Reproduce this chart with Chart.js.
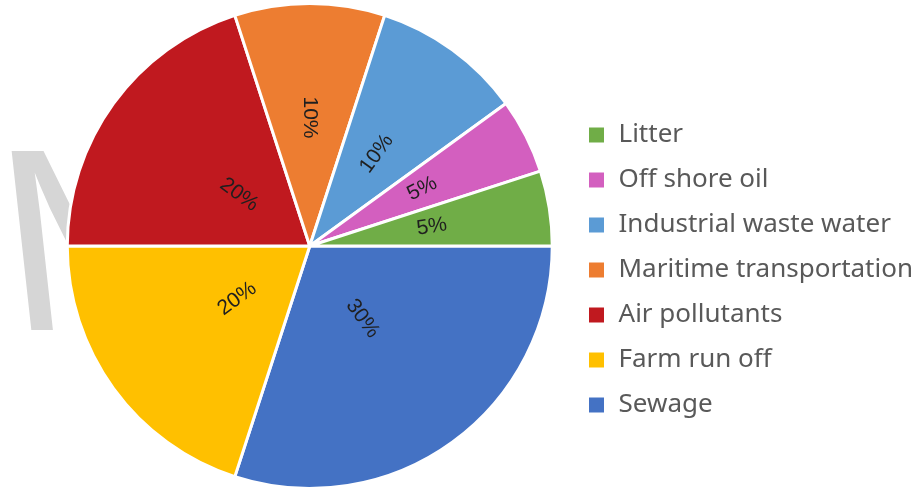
<!DOCTYPE html>
<html lang="en">
<head>
  <meta charset="UTF-8" />
  <title>Sources of marine pollution</title>
  <script src="https://cdn.jsdelivr.net/npm/chart.js"></script>
  <style>
    html, body { margin: 0; padding: 0; background: #fff; }
    #wrap { width: 917px; height: 490px; }
  </style>
</head>
<body>
  <div id="wrap"><canvas id="pie" width="917" height="490"></canvas></div>

  <script>
    // slices in drawing order, clockwise from 3 o'clock
    const categories = ['Sewage', 'Farm run off', 'Air pollutants', 'Maritime transportation',
                        'Industrial waste water', 'Off shore oil', 'Litter'];
    const shares = [30, 20, 20, 10, 10, 5, 5];
    const sliceLabels = ['30%', '20%', '20%', '10%', '10%', '5%', '5%'];

    const colors = ['#4472C4', '#FFC000', '#C0191F', '#ED7D31', '#5B9BD5', '#D35FBF', '#70AD47'];
    // how far out (share of radius) each slice label sits
    const labelDist = [0.37, 0.37, 0.36, 0.53, 0.47, 0.52, 0.51];

    // faint watermark behind the pie
    const watermark = {
      id: 'watermark',
      beforeDraw(chart) {
        const ctx = chart.ctx;
        ctx.save();
        ctx.fillStyle = '#d6d6d6';
        ctx.font = '260px "Liberation Sans"';
        ctx.setTransform(1, 0, 0.11, 1, 10, 330);
        ctx.fillText('M', 0, 0);
        ctx.restore();
      }
    };

    // rotated percent labels inside the slices
    const sliceText = {
      id: 'sliceText',
      afterDatasetsDraw(chart) {
        const ctx = chart.ctx;
        const arcs = chart.getDatasetMeta(0).data;
        ctx.save();
        ctx.font = '21px "Liberation Sans"';
        ctx.fillStyle = '#1f1f1f';
        ctx.textAlign = 'center';
        ctx.textBaseline = 'middle';
        arcs.forEach((arc, i) => {
          const p = arc.getProps(['x', 'y', 'startAngle', 'endAngle', 'outerRadius'], true);
          const mid = (p.startAngle + p.endAngle) / 2;
          const r = p.outerRadius * labelDist[i];
          let a = ((mid % (2 * Math.PI)) + 2 * Math.PI) % (2 * Math.PI);
          if (a > Math.PI / 2 && a <= 3 * Math.PI / 2) a -= Math.PI;
          else if (a > 3 * Math.PI / 2) a -= 2 * Math.PI;
          ctx.save();
          ctx.translate(p.x + Math.cos(mid) * r, p.y + Math.sin(mid) * r);
          ctx.rotate(a);
          ctx.fillText(sliceLabels[i], 0, 0);
          ctx.restore();
        });
        ctx.restore();
      }
    };

    new Chart(document.getElementById('pie'), {
      type: 'pie',
      data: {
        labels: categories,
        datasets: [{
          data: shares,
          backgroundColor: colors,
          borderColor: '#ffffff',
          borderWidth: 3
        }]
      },
      options: {
        responsive: false,
        animation: false,
        rotation: 90,
        layout: { padding: { left: 51, right: -6, top: 2, bottom: 0 } },
        plugins: {
          tooltip: { enabled: false },
          legend: {
            position: 'right',
            reverse: true,
            title: { display: true, text: ' ', font: { size: 10 }, padding: { top: 36, bottom: 0 } },
            labels: {
              boxWidth: 18,
              boxHeight: 18,
              padding: 19,
              color: '#595959',
              font: { family: '"Noto Sans"', size: 26 }
            }
          }
        }
      },
      plugins: [watermark, sliceText]
    });
  </script>
</body>
</html>
